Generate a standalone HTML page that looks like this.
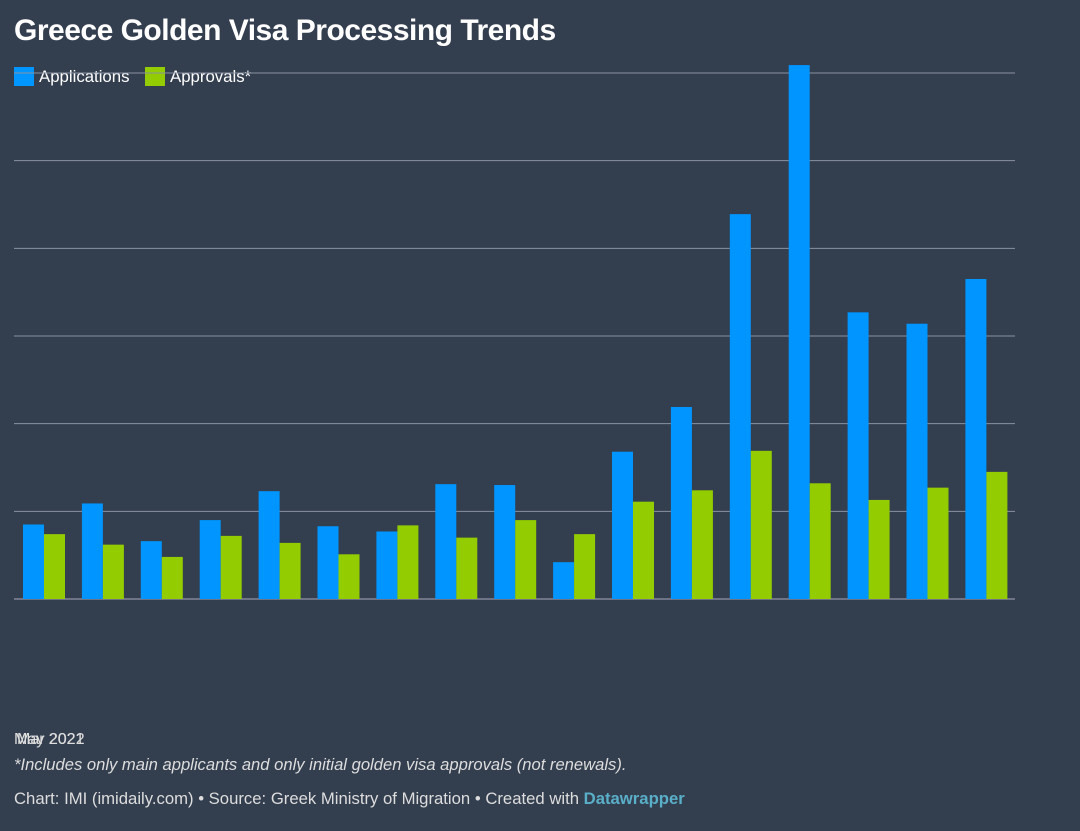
<!DOCTYPE html>
<html><head><meta charset="utf-8"><style>
body{margin:0;width:1080px;height:831px;background:#333e4f;font-family:"Liberation Sans",sans-serif;color:#fff;overflow:hidden;position:relative}
.t{position:absolute;white-space:nowrap}
</style></head><body>
<div class="t" style="left:14px;top:14px;font-size:30px;font-weight:bold;letter-spacing:-0.5px">Greece Golden Visa Processing Trends</div>
<div class="t" style="left:14px;top:67px;font-size:16.8px"><span style="display:inline-block;width:20px;height:19px;background:#0095ff;vertical-align:-4px;margin-right:5px"></span>Applications</div>
<div class="t" style="left:145px;top:67px;font-size:16.8px"><span style="display:inline-block;width:20px;height:19px;background:#93cc00;vertical-align:-4px;margin-right:5px"></span>Approvals*</div>
<svg id="c" width="1080" height="831" style="position:absolute;left:0;top:0"></svg>
<div class="t" style="left:14px;top:731px;font-size:16px;color:#ddd"><span style="position:absolute">May 2021</span><span style="position:absolute;left:3px">Mar 2022</span></div>
<div class="t" style="left:14px;top:755px;font-size:16.6px;font-style:italic;color:#ddd">*Includes only main applicants and only initial golden visa approvals (not renewals).</div>
<div class="t" style="left:14px;top:789px;font-size:16.7px;color:#ddd">Chart: IMI (imidaily.com) • Source: Greek Ministry of Migration • Created with <b style="color:#5aafc8">Datawrapper</b></div>
<script>
const categories=["1","2","3","4","5","6","7","8","9","10","11","12","13","14","15","16","17"];
const applications=[85,109,66,90,123,83,77,131,130,42,168,219,439,609,327,314,365];
const approvals=[74,62,48,72,64,51,84,70,90,74,111,124,169,132,113,127,145];
const ticks=[0,100,200,300,400,500,600];
const svg=document.getElementById('c');const NS='http://www.w3.org/2000/svg';
const base=599,unit=0.8767,x0=23,step=58.9,bw=21;
const y=v=>base-v*unit;
function mk(t,a){const e=document.createElementNS(NS,t);for(const k in a)e.setAttribute(k,a[k]);svg.appendChild(e);return e;}
ticks.forEach(t=>{const l=mk('line',{x1:14,x2:1015,y1:y(t),y2:y(t),stroke:t==0?'#aab':'#8a92a0','stroke-width':1});

});
categories.forEach((c,i)=>{const x=x0+i*step;
const a=mk('rect',{x:x,y:y(applications[i]),width:bw,height:applications[i]*unit,fill:'#0095ff'});


const b=mk('rect',{x:x+bw,y:y(approvals[i]),width:bw,height:approvals[i]*unit,fill:'#93cc00'});

});
</script>
</body></html>
